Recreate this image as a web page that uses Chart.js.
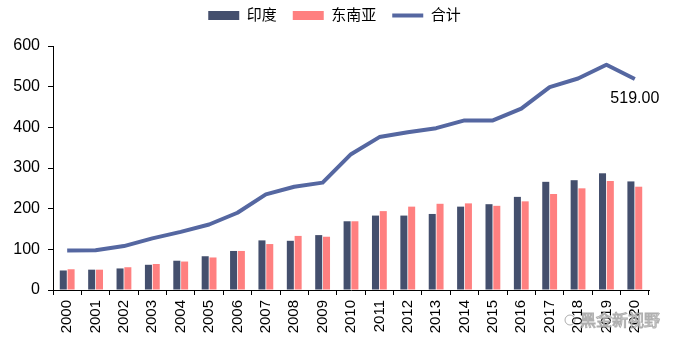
<!DOCTYPE html>
<html>
<head>
<meta charset="utf-8">
<script src="https://cdn.jsdelivr.net/npm/chart.js@4.4.0/dist/chart.umd.min.js"></script>
<style>
  html, body { margin: 0; padding: 0; background: #fff; }
  #wrap { width: 685px; height: 350px; }
</style>
</head>
<body>
<div id="wrap"><canvas id="chart" width="685" height="350"></canvas></div>
<script>
const years = ["2000", "2001", "2002", "2003", "2004", "2005", "2006", "2007", "2008", "2009", "2010",
    "2011", "2012", "2013", "2014", "2015", "2016", "2017", "2018", "2019", "2020"];
const india = [48, 50, 53, 62, 72, 83, 96, 122, 121, 135, 169, 183, 183, 187, 205, 211, 229, 266, 270, 287, 267];
const seAsia = [51, 50, 56, 64, 70, 80, 96, 113, 133, 131, 169, 194, 205, 212, 213, 207, 218, 236, 250, 268, 254];
const total = [97, 98, 108, 127, 143, 161, 190, 235, 254, 264, 334, 376, 388, 398, 417, 417, 446, 499, 520, 554, 519];
const yTicks = [0, 100, 200, 300, 400, 500, 600];

const FONT = "'Liberation Sans', Arial, 'Noto Sans CJK SC', sans-serif";

// legend: wider spacing between items, but kept near the top edge
const legendTweak = {
    id: "legendTweak",
    beforeInit(chart) {
        const legend = chart.legend;
        const fit = legend.fit;
        legend.fit = function () {
            fit.bind(legend)();
            this.height += 5;
        };
        const draw = legend.draw;
        legend.draw = function () {
            const ctx = chart.ctx;
            ctx.save();
            ctx.translate(10, -8);
            draw.bind(legend)();
            ctx.restore();
        };
    }
};

// value label on the last point of the total line
const lastLabel = {
    id: "lastLabel",
    afterDatasetsDraw(chart) {
        const meta = chart.getDatasetMeta(2);
        const pt = meta.data[meta.data.length - 1];
        const ctx = chart.ctx;
        ctx.save();
        ctx.font = "16px " + FONT;
        ctx.fillStyle = "#000";
        ctx.textAlign = "center";
        ctx.textBaseline = "middle";
        ctx.fillText(total[total.length - 1].toFixed(2), pt.x, pt.y + 20);
        ctx.restore();
    }
};

const watermark = {
    id: "watermark",
    afterDraw(chart) {
        const ctx = chart.ctx;
        ctx.save();
        ctx.font = "16px 'Noto Sans CJK SC', sans-serif";
        ctx.textBaseline = "middle";
        ctx.lineWidth = 1;
        ctx.strokeStyle = "rgba(140,140,140,0.7)";
        ctx.fillStyle = "rgba(255,255,255,0.85)";
        ctx.fillText("黑金新视野", 580, 320);
        ctx.strokeText("黑金新视野", 580, 320);
        ctx.beginPath();
        ctx.arc(570, 320, 5, 0, Math.PI * 2);
        ctx.stroke();
        ctx.restore();
    }
};

new Chart(document.getElementById("chart"), {
    type: "bar",
    data: {
        labels: years,
        datasets: [
            {
                label: "印度",
                data: india,
                backgroundColor: "#444F6D",
                borderWidth: 0,
                pointStyle: "rect",
                categoryPercentage: 0.55,
                barPercentage: 0.9
            },
            {
                label: "东南亚",
                data: seAsia,
                backgroundColor: "#FF8080",
                borderWidth: 0,
                pointStyle: "rect",
                categoryPercentage: 0.55,
                barPercentage: 0.9
            },
            {
                type: "line",
                label: "合计",
                data: total,
                borderColor: "#5567A1",
                backgroundColor: "#5567A1",
                borderWidth: 4,
                borderJoinStyle: "round",
                tension: 0,
                pointRadius: 0,
                pointStyle: "line"
            }
        ]
    },
    options: {
        responsive: false,
        animation: false,
        layout: { padding: { top: 0, right: 36, left: 0, bottom: 0 } },
        plugins: {
            tooltip: { enabled: false },
            legend: {
                position: "top",
                labels: {
                    usePointStyle: true,
                    pointStyleWidth: 31,
                    boxHeight: 9,
                    padding: 16,
                    color: "#000",
                    font: { family: FONT, size: 15 }
                }
            }
        },
        scales: {
            x: {
                grid: {
                    drawOnChartArea: false,
                    drawTicks: true,
                    tickLength: 5,
                    color: "#000"
                },
                border: { display: true, color: "#000", width: 1 },
                ticks: {
                    autoSkip: false,
                    minRotation: 90,
                    maxRotation: 90,
                    padding: 5,
                    color: "#000",
                    font: { family: FONT, size: 15 }
                },
                afterFit(scale) { scale.height = 60; }
            },
            y: {
                min: 0,
                max: 600,
                afterBuildTicks(scale) { scale.ticks = yTicks.map(v => ({ value: v })); },
                grid: {
                    drawOnChartArea: false,
                    drawTicks: true,
                    tickLength: 5,
                    color: "#000"
                },
                border: { display: true, color: "#000", width: 1 },
                ticks: {
                    padding: 8,
                    color: "#000",
                    font: { family: FONT, size: 16 }
                },
                afterFit(scale) { scale.width = 53; }
            }
        }
    },
    plugins: [legendTweak, lastLabel, watermark]
});
</script>
</body>
</html>
